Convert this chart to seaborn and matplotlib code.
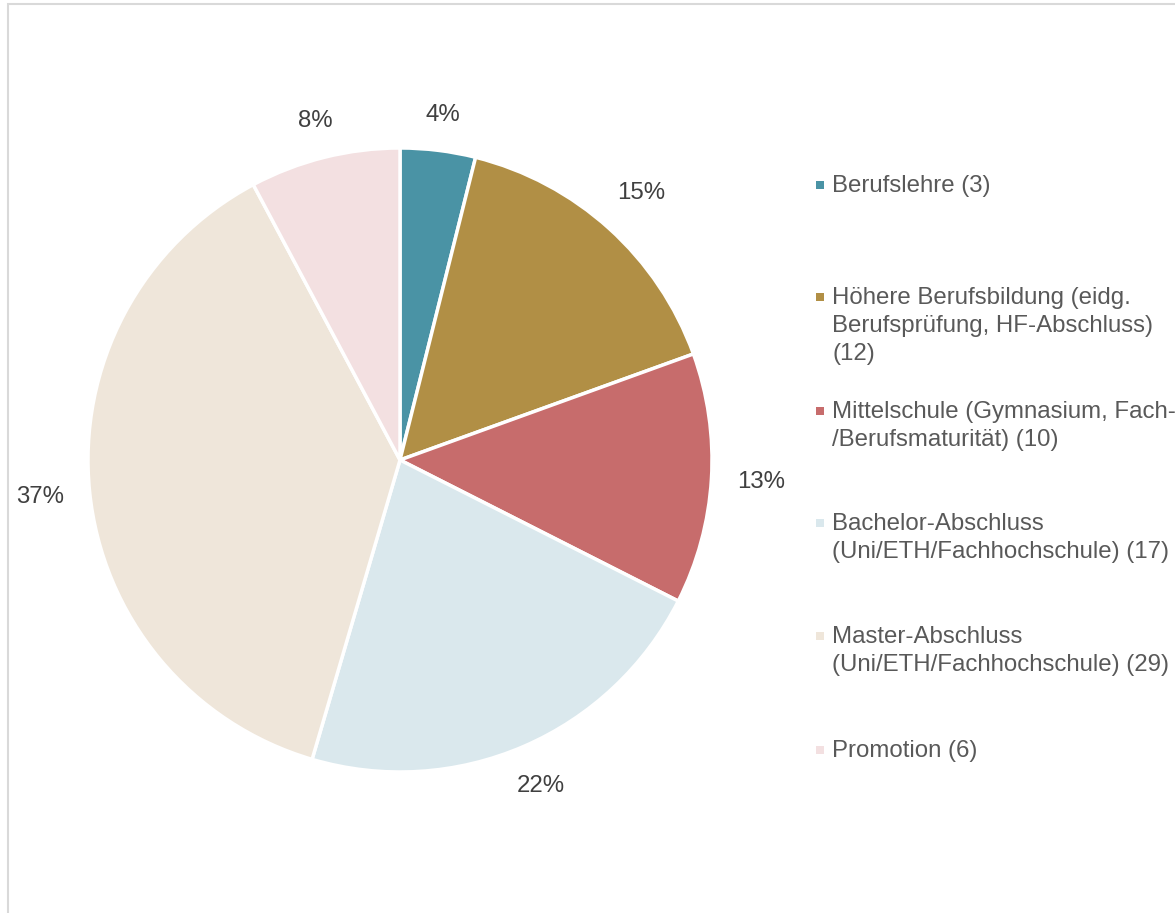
import matplotlib
matplotlib.use("Agg")
import numpy as np
import matplotlib.pyplot as plt
from matplotlib.patches import Rectangle
import seaborn as sns

# Daten
kategorien = [
    "Berufslehre (3)",
    "Höhere Berufsbildung (eidg.\nBerufsprüfung, HF-Abschluss)\n(12)",
    "Mittelschule (Gymnasium, Fach-\n/Berufsmaturität) (10)",
    "Bachelor-Abschluss\n(Uni/ETH/Fachhochschule) (17)",
    "Master-Abschluss\n(Uni/ETH/Fachhochschule) (29)",
    "Promotion (6)",
]
anzahl = [3, 12, 10, 17, 29, 6]
prozent_labels = ["4%", "15%", "13%", "22%", "37%", "8%"]
farben = ["#4A93A5", "#B18F45", "#C76C6C", "#DAE8ED", "#EFE6DA", "#F3E0E1"]

sns.set_theme(style="white")
plt.rcParams["font.family"] = ["Liberation Sans", "DejaVu Sans"]

W, H = 1175, 913
fig = plt.figure(figsize=(W / 100, H / 100), dpi=100)
ax = fig.add_axes([0, 0, 1, 1])

# Kreisdiagramm
cx, cy, r = 400, 460, 312
wedges, texts, autotexts = ax.pie(
    anzahl, colors=farben, startangle=90, counterclock=False,
    autopct="%1.0f%%", pctdistance=1.15,
    wedgeprops=dict(edgecolor="white", linewidth=2.5),
    textprops=dict(color="#404040", fontsize=17.3),
)
ax.set_xlim(-cx / r, (W - cx) / r)
ax.set_ylim(-(H - cy) / r, cy / r)
ax.set_aspect("auto")
ax.axis("off")

# Beschriftungen aussen, Abstand vom Rand wie in Excel
fig.canvas.draw()
renderer = fig.canvas.get_renderer()
abstand = 25
for t, lab, w in zip(autotexts, prozent_labels, wedges):
    t.set_text(lab)
    t.set_ha("center")
    t.set_va("center")
    bb = t.get_window_extent(renderer)
    hw, hh = bb.width / 2, bb.height / 2 - 2
    mid = np.deg2rad((w.theta1 + w.theta2) / 2)
    dx, dy = np.cos(mid), np.sin(mid)
    d = r + abstand + abs(dx) * hw + abs(dy) * hh
    t.set_position((dx * d / r, dy * d / r))

# Legende
legend_y = [185, 297, 411, 523, 636, 750]
for name, farbe, y in zip(kategorien, farben, legend_y):
    fig.add_artist(Rectangle((816 / W, 1 - (y + 4) / H), 8 / W, 8 / H,
                             transform=fig.transFigure, color=farbe, lw=0))
    fig.text(832 / W, 1 - (y - 10) / H, name, ha="left", va="top",
             fontsize=17.3, color="#595959", linespacing=1.36)

# Rahmen
fig.add_artist(Rectangle((7.5 / W, -0.1), 1.2, (H - 4) / H + 0.1,
                         transform=fig.transFigure, fill=False,
                         edgecolor="#d9d9d9", lw=1.5))

fig.savefig("out.png", dpi=100)
